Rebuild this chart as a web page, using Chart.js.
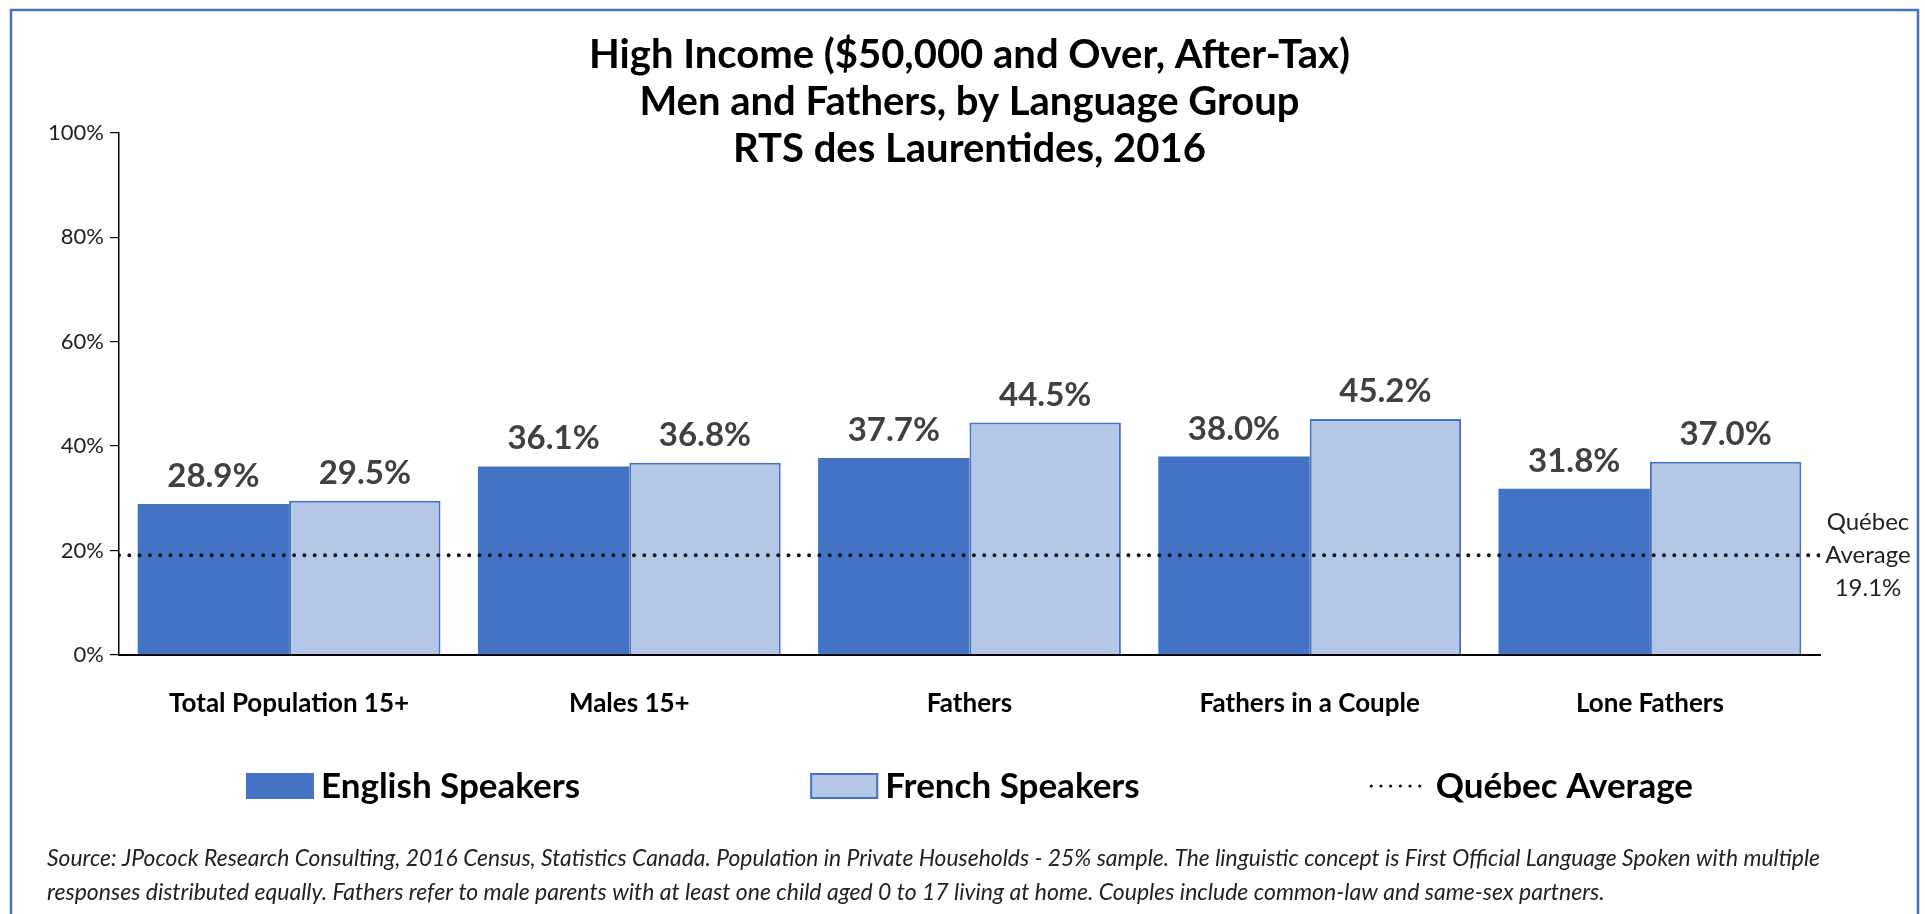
<!DOCTYPE html>
<html>
<head>
<meta charset="utf-8">
<title>High Income - Men and Fathers, RTS des Laurentides</title>
<script src="https://cdn.jsdelivr.net/npm/chart.js@4.4.1/dist/chart.umd.min.js"></script>
<style>
  html, body { margin: 0; padding: 0; background: #fff; overflow: hidden; }
  #wrap { width: 1925px; height: 914px; }
</style>
</head>
<body>
<div id="wrap"><canvas id="chart" width="1925" height="914"></canvas></div>
<script>
const categories = ["Total Population 15+", "Males 15+", "Fathers", "Fathers in a Couple", "Lone Fathers"];
const englishSpeakers = [28.9, 36.1, 37.7, 38.0, 31.8];
const frenchSpeakers = [29.5, 36.8, 44.5, 45.2, 37.0];
const quebecAverage = 19.1;
const yTickStep = 20;
const yMax = 100;

const titleLines = [
  "High Income ($50,000 and Over, After-Tax)",
  "Men and Fathers, by Language Group",
  "RTS des Laurentides, 2016"
];
const sourceLines = [
  "Source: JPocock Research Consulting, 2016 Census, Statistics Canada. Population in Private Households - 25% sample. The linguistic concept is First Official Language Spoken with multiple",
  "responses distributed equally. Fathers refer to male parents with at least one child aged 0 to 17 living at home. Couples include common-law and same-sex partners."
];
const avgLabel = ["Québec", "Average"];

const BLUE = "#4472C4";
const LIGHT = "#B4C7E7";
const FONT = "Lato, 'Open Sans', sans-serif";

// the average line sits on its own hidden x scale; newer 4.x builds count that
// scale when grouping bars, which halves the bar width. keep grouping to one axis.
if (Chart.BarController && Chart.BarController.prototype._getAxisCount) {
  Chart.BarController.prototype._getAxisCount = function () { return 1; };
}

/* frame around the whole picture */
const framePlugin = {
  id: "frame",
  beforeDraw(chart) {
    const c = chart.ctx;
    c.save();
    c.fillStyle = "#fff";
    c.fillRect(0, 0, chart.width, chart.height);
    c.strokeStyle = BLUE;
    c.lineWidth = 2.5;
    c.strokeRect(11, 10, chart.width - 18, chart.height + 20);
    c.restore();
  }
};

/* value labels above each bar */
const barLabels = {
  id: "barLabels",
  afterDatasetsDraw(chart) {
    const c = chart.ctx;
    c.save();
    c.font = "bold 33px " + FONT;
    c.fillStyle = "#404040";
    c.textAlign = "center";
    c.textBaseline = "alphabetic";
    [0, 1].forEach((di) => {
      const meta = chart.getDatasetMeta(di);
      const vals = chart.data.datasets[di].data;
      meta.data.forEach((el, i) => {
        const { x, y } = el.getProps(["x", "y"], true);
        c.fillText(vals[i].toFixed(1) + "%", x, y - 17);
      });
    });
    c.restore();
  }
};

/* "Québec Average 19.1%" note at the right end of the dotted line */
const avgNote = {
  id: "avgNote",
  afterDraw(chart) {
    const c = chart.ctx;
    const y = chart.scales.y.getPixelForValue(quebecAverage);
    const x = chart.chartArea.right + 48;
    const lines = [...avgLabel, quebecAverage.toFixed(1) + "%"];
    c.save();
    c.font = "24px " + FONT;
    c.fillStyle = "#222";
    c.textAlign = "center";
    c.textBaseline = "middle";
    lines.forEach((t, i) => c.fillText(t, x, y + (i - 1) * 33));
    c.restore();
  }
};

/* legend, spread out like the original */
const spreadLegend = {
  id: "spreadLegend",
  afterDraw(chart) {
    const c = chart.ctx;
    const boxW = 68, boxH = 26, lineW = 59, gapText = 7, gapItem = 230;
    const y = chart.scales.x.bottom + 34;
    c.save();
    c.font = "bold 35px " + FONT;
    const items = chart.data.datasets.map((ds) => {
      const sw = ds.type === "line" ? lineW : boxW;
      return { ds, sw, text: ds.label, w: sw + gapText + c.measureText(ds.label).width };
    });
    const total = items.reduce((s, it) => s + it.w, 0) + gapItem * (items.length - 1);
    let x = (chart.chartArea.left + chart.chartArea.right) / 2 - total / 2;
    items.forEach((it) => {
      const ds = it.ds;
      if (ds.type === "line") {
        c.strokeStyle = ds.borderColor;
        c.lineWidth = 3.2;
        c.lineCap = "round";
        c.setLineDash([0, 9.7]);
        c.beginPath();
        c.moveTo(x + 1.5, y);
        c.lineTo(x + it.sw, y);
        c.stroke();
        c.setLineDash([]);
      } else {
        c.fillStyle = ds.backgroundColor;
        c.fillRect(x, y - boxH / 2, boxW, boxH);
        if (ds.borderWidth > 0) {
          c.strokeStyle = ds.borderColor;
          c.lineWidth = ds.borderWidth;
          c.strokeRect(x + 1, y - boxH / 2 + 1, boxW - 2, boxH - 2);
        }
      }
      c.fillStyle = "#000";
      c.textAlign = "left";
      c.textBaseline = "middle";
      c.fillText(it.text, x + it.sw + gapText, y + 1);
      x += it.w + gapItem;
    });
    c.restore();
  }
};

function draw() {
  new Chart(document.getElementById("chart"), {
    type: "bar",
    data: {
      labels: categories,
      datasets: [
        {
          label: "English Speakers",
          data: englishSpeakers,
          backgroundColor: BLUE,
          borderColor: BLUE,
          borderWidth: 0,
          categoryPercentage: 0.89,
          barPercentage: 1,
          order: 1
        },
        {
          label: "French Speakers",
          data: frenchSpeakers,
          backgroundColor: LIGHT,
          borderColor: BLUE,
          borderWidth: 2,
          categoryPercentage: 0.89,
          barPercentage: 1,
          order: 1
        },
        {
          type: "line",
          label: "Québec Average",
          data: [{ x: 0, y: quebecAverage }, { x: 1, y: quebecAverage }],
          xAxisID: "xLine",
          borderColor: "#111",
          borderWidth: 4,
          borderDash: [0, 10.3],
          borderCapStyle: "round",
          pointRadius: 0,
          fill: false,
          order: 0
        }
      ]
    },
    options: {
      responsive: false,
      animation: false,
      events: [],
      layout: { padding: { top: 10, left: 47, right: 105, bottom: 4 } },
      scales: {
        x: {
          grid: { display: false, drawTicks: false },
          border: { display: true, color: "#000", width: 2 },
          ticks: {
            font: { family: FONT, size: 26, weight: "bold" },
            color: "#000",
            padding: 33,
            maxRotation: 0,
            autoSkip: false
          }
        },
        xLine: { type: "linear", min: 0, max: 1, offset: false, display: false },
        y: {
          min: 0,
          max: yMax,
          ticks: {
            stepSize: yTickStep,
            callback: (v) => v + "%",
            font: { family: FONT, size: 22 },
            color: "#222",
            padding: 6
          },
          grid: { display: true, drawOnChartArea: false, drawTicks: true, tickLength: 9, color: "#000", lineWidth: 1.2 },
          border: { display: true, color: "#000", width: 1.5 },
          afterFit: (s) => { s.width = 72; }
        }
      },
      plugins: {
        legend: { display: false },
        tooltip: { enabled: false },
        title: {
          display: true,
          text: titleLines,
          fullSize: false,
          color: "#000",
          font: { family: FONT, size: 40, weight: "bold", lineHeight: 47 / 40 },
          padding: { top: 22, bottom: -40 }
        },
        subtitle: {
          display: true,
          position: "bottom",
          align: "start",
          text: sourceLines,
          color: "#222",
          font: { family: FONT, size: 23, style: "italic", lineHeight: 34 / 23 },
          padding: { top: 90, bottom: 0 }
        }
      }
    },
    plugins: [framePlugin, barLabels, avgNote, spreadLegend]
  });
}

Promise.all([
  document.fonts.load("bold 30px Lato"),
  document.fonts.load("22px Lato"),
  document.fonts.load("italic 20px Lato")
]).catch(() => {}).then(draw);
</script>
</body>
</html>
